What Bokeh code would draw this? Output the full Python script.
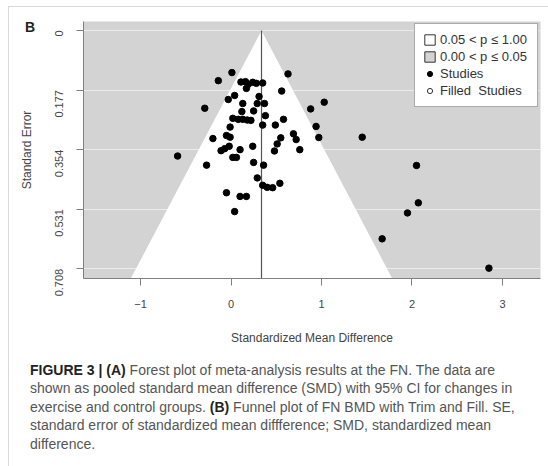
import math
import html
from bokeh.plotting import figure
from bokeh.layouts import column
from bokeh.models import Range1d, FixedTicker, Div
from bokeh.embed import file_html
from bokeh.resources import INLINE

# ---- data ----
smd = [0.01, -0.14, 0.11, 0.16, 0.19, 0.24, 0.28, 0.35, 0.17, -0.03,
       0.04, -0.29, 0.31, 0.13, 0.29, 0.37, 0.12, 0.25, 0.38, 0.02,
       0.08, 0.13, 0.18, 0.22, -0.01, 0.35, -0.05, -0.01, -0.20, -0.11,
       -0.07, -0.02, 0.10, 0.24, -0.59, 0.02, 0.06, -0.27, 0.25, 0.36,
       0.29, 0.35, 0.40, 0.46, 0.54, -0.05, 0.10, 0.17, 0.04, 0.63,
       0.56, 0.58, 0.49, 0.69, 0.72, 0.76, 0.55, 0.51, 0.48, 1.03,
       0.88, 0.94, 0.97, 1.45, 2.05, 2.07, 1.95, 1.67, 2.85]
se = [0.125, 0.149, 0.153, 0.152, 0.160, 0.154, 0.157, 0.156, 0.172, 0.205,
      0.193, 0.231, 0.196, 0.217, 0.217, 0.217, 0.241, 0.239, 0.253, 0.261,
      0.264, 0.264, 0.266, 0.267, 0.287, 0.281, 0.312, 0.317, 0.321, 0.357,
      0.351, 0.344, 0.354, 0.344, 0.373, 0.377, 0.377, 0.400, 0.392, 0.400,
      0.438, 0.460, 0.466, 0.467, 0.454, 0.482, 0.493, 0.493, 0.538, 0.129,
      0.180, 0.264, 0.281, 0.307, 0.324, 0.354, 0.319, 0.337, 0.358, 0.213,
      0.233, 0.285, 0.318, 0.317, 0.401, 0.512, 0.542, 0.619, 0.706]
pooled_smd = 0.337
z_crit = 1.96

se_ticks = [0, 0.177, 0.354, 0.531, 0.708]
se_tick_labels = ["0", "0.177", "0.354", "0.531", "0.708"]
smd_ticks = [-1, 0, 1, 2, 3]

legend_labels = ["0.05 < p \u2264 1.00", "0.00 < p \u2264 0.05", "Studies", "Filled  Studies"]
x_title = "Standardized Mean Difference"
y_title = "Standard Error"
panel_tag = "B"

# caption: list of lines, each a list of (text, bold) runs
caption_lines = [
    [("FIGURE 3 | (A)", True), (" Forest plot of meta-analysis results at the FN. The data are", False)],
    [("shown as pooled standard mean difference (SMD) with 95% CI for changes in", False)],
    [("exercise and control groups. ", False), ("(B)", True),
     (" Funnel plot of FN BMD with Trim and Fill. SE,", False)],
    [("standard error of standardized mean diffference; SMD, standardized mean", False)],
    [("difference.", False)],
]

# ---- layout ----
W = 548
TOP_H = 352
CAP_H = 466 - TOP_H
FRAME_L, FRAME_R, FRAME_T, FRAME_B = 83, 540, 21, 278
X_MIN, X_MAX = -1.63, 3.42
SE_TOP, SE_BOTTOM = -0.0267, 0.7368
FONT = "Liberation Sans"
GRAY_BG = "#d3d3d3"
EDGE = "#d9d9d9"
NAN = float("nan")

p = figure(width=W, height=TOP_H, output_backend="svg", toolbar_location=None,
           x_range=Range1d(X_MIN, X_MAX), y_range=Range1d(SE_BOTTOM, SE_TOP),
           min_border_left=FRAME_L, min_border_right=W - FRAME_R,
           min_border_top=FRAME_T, min_border_bottom=TOP_H - FRAME_B, margin=0)
p.background_fill_color = GRAY_BG
p.border_fill_color = None
p.outline_line_color = None
p.styles = {
    "background-color": "white",
    "background-image": f"linear-gradient({EDGE},{EDGE}), linear-gradient({EDGE},{EDGE})",
    "background-size": "1px 100%, 100% 1px",
    "background-position": "8px 6px, 8px 6px",
    "background-repeat": "no-repeat",
}

p.xaxis.ticker = FixedTicker(ticks=smd_ticks)
p.yaxis.ticker = FixedTicker(ticks=se_ticks)
p.yaxis.major_label_overrides = dict(zip(se_ticks, se_tick_labels))
p.xgrid.grid_line_color = None
p.ygrid.grid_line_color = "#ebebeb"
p.ygrid.grid_line_width = 1

for ax in (p.xaxis, p.yaxis):
    ax.axis_line_color = "#808080"
    ax.major_tick_line_color = "#808080"
    ax.major_tick_out = 7
    ax.major_tick_in = 0
    ax.minor_tick_line_color = None
    ax.major_label_text_font = FONT
    ax.major_label_text_font_size = "11px"
    ax.major_label_text_color = "#444444"
    ax.axis_label_text_font = FONT
    ax.axis_label_text_font_size = "12px"
    ax.axis_label_text_font_style = "normal"
    ax.axis_label_text_color = "#444444"
p.xaxis.axis_label = x_title
p.yaxis.axis_label = y_title
p.yaxis.major_label_orientation = math.pi / 2
p.xaxis.major_label_standoff = 14
p.yaxis.major_label_standoff = 17
p.xaxis.axis_label_standoff = 20
p.yaxis.axis_label_standoff = 15

# funnel (white region of non-significance)
se_edge = SE_BOTTOM + 0.02
p.patch([pooled_smd - z_crit * se_edge, pooled_smd, pooled_smd + z_crit * se_edge],
        [se_edge, 0, se_edge], fill_color="white", line_color=None)
p.segment(x0=[pooled_smd], y0=[0], x1=[pooled_smd], y1=[se_edge],
          line_color="#555555", line_width=1.2)

p.scatter(smd, se, size=6.5, marker="circle", fill_color="black", line_color="black")

# legend entries (placeholder renderers with no visible data)
p.quad(left=[NAN], right=[NAN], top=[NAN], bottom=[NAN], fill_color="white",
       line_color="#333333", legend_label=legend_labels[0])
p.quad(left=[NAN], right=[NAN], top=[NAN], bottom=[NAN], fill_color=GRAY_BG,
       line_color="#333333", legend_label=legend_labels[1])
p.scatter([NAN], [NAN], marker="circle", fill_color="black", line_color="black",
          legend_label=legend_labels[2])
p.scatter([NAN], [NAN], marker="circle", fill_color="white", line_color="#333333",
          legend_label=legend_labels[3])
lg = p.legend[0]
lg.location = "top_right"
lg.margin = 2
lg.padding = 8
lg.spacing = 2
lg.glyph_width = 13
lg.glyph_height = 13
lg.label_height = 15
lg.label_width = 89
lg.label_standoff = 4
lg.label_text_font = FONT
lg.label_text_font_size = "13px"
lg.label_text_color = "#333333"
lg.border_line_color = "#555555"
lg.border_line_width = 1
lg.background_fill_color = "white"
lg.background_fill_alpha = 1

# ---- caption block (plus the panel tag, positioned over the plot's top-left corner) ----
def run_html(text, bold):
    t = html.escape(text)
    return f'<b style="color:#222222">{t}</b>' if bold else t

lines_html = "<br>".join("".join(run_html(t, b) for t, b in line) for line in caption_lines)
tag_html = (f'<div style="position:absolute;left:16px;top:{20 - TOP_H}px;font-weight:bold;'
            f'font-size:14px;line-height:14px;color:#222222;">{html.escape(panel_tag)}</div>')
cap_style = ("position:relative;margin:0 0 0 8px;border-left:1px solid " + EDGE + ";height:" +
             str(CAP_H) + "px;box-sizing:border-box;padding:8.75px 0 0 21px;"
             "font-family:'Liberation Sans';font-size:14px;line-height:18.5px;color:#555555;"
             "white-space:nowrap;overflow:visible;")
cap = Div(text=f'<div style="{cap_style}">{tag_html}{lines_html}</div>', width=W,
          height=CAP_H, margin=0, styles={"overflow": "visible", "z-index": "5"})

layout = column(p, cap, spacing=0, margin=0)
open("out.html", "w").write(file_html(layout, INLINE))
